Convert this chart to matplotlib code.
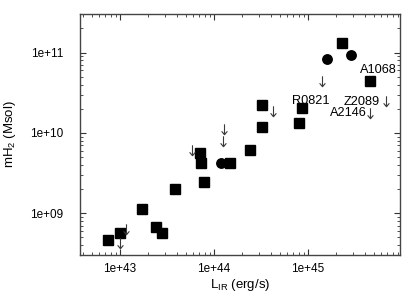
import matplotlib
matplotlib.use("Agg")
import matplotlib.pyplot as plt
from matplotlib.path import Path
from matplotlib.ticker import FixedLocator, FuncFormatter, LogLocator, NullFormatter

plt.rcParams["font.family"] = ["Liberation Sans", "DejaVu Sans"]
plt.rcParams["mathtext.default"] = "regular"

# detections (squares)
sq_lir = [7.5e42, 1.0e43, 1.73e43, 2.4e43, 2.82e43, 3.85e43, 7.9e43, 7.2e43,
          7.1e43, 1.48e44, 2.42e44, 3.27e44, 3.27e44, 8.07e44, 8.57e44,
          2.32e45, 4.57e45]
sq_mh2 = [4.66e8, 5.64e8, 1.13e9, 6.7e8, 5.64e8, 1.99e9, 2.43e9, 4.19e9,
          5.67e9, 4.19e9, 6.13e9, 1.17e10, 2.24e10, 1.32e10, 2.02e10,
          1.30e11, 4.42e10]

# detections (circles)
ci_lir = [1.18e44, 1.60e45, 2.86e45]
ci_mh2 = [4.19e9, 8.23e10, 9.31e10]

# upper limits (arrows)
ul_lir = [1.15e43, 1.0e43, 5.87e43, 1.29e44, 1.26e44, 4.28e44, 1.40e45,
          6.76e45, 4.57e45]
ul_mh2 = [6.38e8, 4.21e8, 6.13e9, 1.12e10, 7.93e9, 1.85e10, 4.42e10,
          2.46e10, 1.79e10]

# cluster names
names = ["A1068", "R0821", "Z2089", "A2146"]
name_lir = [5.62e45, 1.08e45, 3.73e45, 2.67e45]
name_mh2 = [6.05e10, 2.49e10, 2.44e10, 1.75e10]

x_ticks = [1e43, 1e44, 1e45]
y_ticks = [1e9, 1e10, 1e11]

# downward arrow marker
arrow = Path([(0, 1), (0, -1), (-0.55, -0.35), (0, -1), (0.55, -0.35)],
             [Path.MOVETO, Path.LINETO, Path.MOVETO, Path.LINETO, Path.LINETO])

fig = plt.figure(figsize=(4.15, 3.01), dpi=100)
ax = fig.add_axes([0.1928, 0.1528, 0.7711, 0.8007])

ax.plot(sq_lir, sq_mh2, linestyle="none", marker="s", markersize=6.5,
        color="black")
ax.plot(ci_lir, ci_mh2, linestyle="none", marker="o", markersize=6.8,
        color="black")
ax.plot(ul_lir, ul_mh2, linestyle="none", marker=arrow, markersize=7.5,
        markerfacecolor="none", markeredgecolor="#3a3a3a",
        markeredgewidth=0.8)

for name, x, y in zip(names, name_lir, name_mh2):
    ax.text(x, y, name, ha="center", va="center", fontsize=9.2)

ax.set_xscale("log")
ax.set_yscale("log")
ax.set_xlim(10**42.574, 10**45.98)
ax.set_ylim(10**8.48, 10**11.48)

fmt = FuncFormatter(lambda v, pos: f"{v:.0e}")
ax.xaxis.set_major_locator(FixedLocator(x_ticks))
ax.yaxis.set_major_locator(FixedLocator(y_ticks))
ax.xaxis.set_major_formatter(fmt)
ax.yaxis.set_major_formatter(fmt)
ax.xaxis.set_minor_locator(LogLocator(base=10, subs=range(2, 10)))
ax.yaxis.set_minor_locator(LogLocator(base=10, subs=range(2, 10)))
ax.xaxis.set_minor_formatter(NullFormatter())
ax.yaxis.set_minor_formatter(NullFormatter())

ax.tick_params(which="both", direction="in", top=True, right=True,
               labelsize=8.5, color="#333333")
ax.tick_params(which="major", length=4, width=0.8)
ax.tick_params(which="minor", length=2, width=0.6)
ax.tick_params(axis="y", which="major", pad=12)
ax.tick_params(axis="x", which="major", pad=6)
for spine in ax.spines.values():
    spine.set_color("#444444")
    spine.set_linewidth(1.0)

ax.set_xlabel(r"L$_{IR}$ (erg/s)", fontsize=9.5)
ax.set_ylabel(r"mH$_2$ (Msol)", fontsize=9.5)
ax.xaxis.set_label_coords(0.5, -0.092)
ax.yaxis.set_label_coords(-0.194, 0.5)

fig.savefig("out.png", dpi=100)
